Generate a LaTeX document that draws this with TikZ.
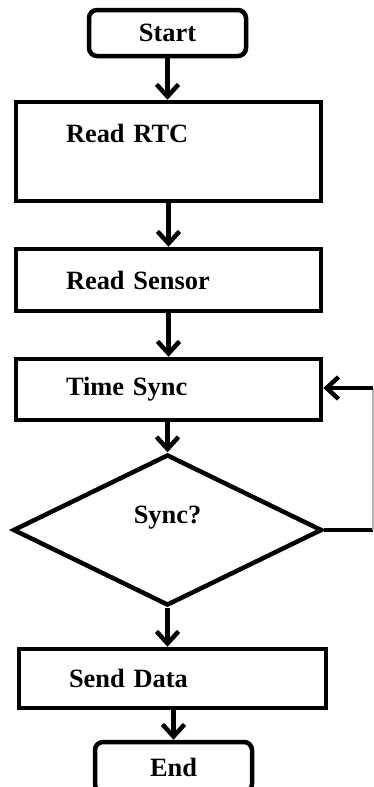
\documentclass[tikz,border=0pt]{standalone}
\usepackage{fontspec}
\setmainfont{Liberation Serif}
\usetikzlibrary{shapes.geometric,arrows.meta}

\tikzset{
  lbl/.style={font=\bfseries\fontsize{13.2}{15}\selectfont},
  proc/.style={lbl, draw, line width=2.25pt, minimum width=152.5pt,
    text width=102.5pt, inner xsep=25pt, align=left},
  term/.style={lbl, draw, line width=2.25pt, rounded corners=4pt,
    minimum width=78.5pt, minimum height=23pt},
  decide/.style={lbl, diamond, draw, line width=2.25pt, inner sep=0pt,
    minimum width=154.5pt, minimum height=75.5pt},
  flow/.style={line width=2.25pt, -{Straight Barb[length=6pt,width=11pt]}},
}

\begin{document}
\begin{tikzpicture}[x=0.5pt,y=-0.5pt]
  \clip (0,0) rectangle (374,787);

  % blocks
  \node[term] (start) at (167.5,33) {Start};
  \node[proc, minimum height=49.5pt, text depth=18pt] (rtc) at (168.5,151.5) {Read RTC};
  \node[proc, minimum height=31pt] (sensor) at (168.5,280) {Read Sensor};
  \node[proc, minimum height=30.5pt] (tsync) at (168.5,389.5) {Time Sync};
  \node[decide, text depth=15pt] (sync) at (167.5,530) {Sync?};
  \node[proc, minimum width=153.5pt, text width=103.5pt, minimum height=29.5pt] (send) at (172.5,678.5) {Send Data};
  \node[term, minimum height=25pt] (end) at (173.5,767) {End};

  % main flow
  \draw[flow] (start.south) -- (start.south |- rtc.north);
  \draw[flow] (rtc.south) -- (rtc.south |- sensor.north);
  \draw[flow] (sensor.south) -- (sensor.south |- tsync.north);
  \draw[flow] (tsync.south -| sync.north) -- (sync.north);
  \draw[flow] (sync.south) -- (sync.south |- send.north);
  \draw[flow] (send.south -| end.north) -- (end.north);

  % retry loop back to time sync
  \coordinate (loopout) at (373,530);
  \coordinate (loopin) at (373,388);
  \draw[line width=2.25pt] (sync.east) -- (loopout);
  \draw[gray!60, line width=0.6pt] (loopout) -- (loopin);
  \draw[flow] (loopin) -- (loopin -| tsync.east);
\end{tikzpicture}
\end{document}
